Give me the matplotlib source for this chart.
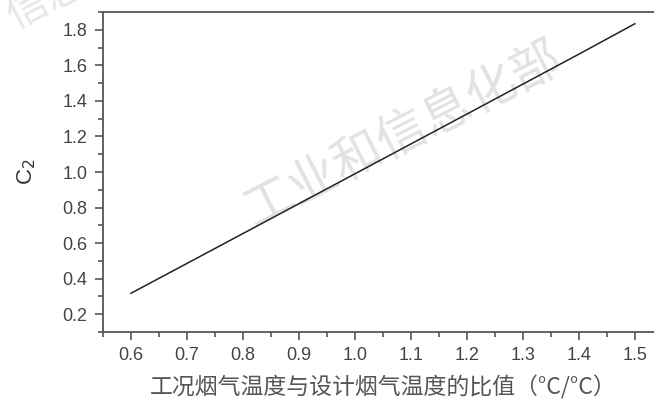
import numpy as np
import matplotlib.pyplot as plt
import matplotlib as mpl
from matplotlib.ticker import MultipleLocator

mpl.rcParams['font.family'] = ['Liberation Sans']
cjk = ['Noto Sans CJK SC', 'DejaVu Sans']

# ratio of working to design flue gas temperature vs C2
ratio = [0.6, 0.8, 1.0, 1.2, 1.4, 1.5]
c2 = [0.318, 0.654, 0.99, 1.326, 1.663, 1.834]

fig = plt.figure(figsize=(6.54, 4.01), dpi=100)
ax = fig.add_axes([0.1575, 0.172, 0.856, 0.798])
ax.set_facecolor('none')

ax.plot(ratio, c2, color='#222222', linewidth=1.1)

ax.set_xlim(0.55, 1.55)
ax.set_ylim(0.1, 1.9)
ax.xaxis.set_major_locator(MultipleLocator(0.1))
ax.xaxis.set_minor_locator(MultipleLocator(0.05))
ax.yaxis.set_major_locator(MultipleLocator(0.2))
ax.yaxis.set_minor_locator(MultipleLocator(0.1))

spine_col = '#555555'
for s in ax.spines.values():
    s.set_color(spine_col)
    s.set_linewidth(1.3)
ax.tick_params(which='both', direction='out', color=spine_col, width=1.2,
               labelcolor='#444444', labelsize=13)
ax.tick_params(which='major', length=6, pad=5)
ax.tick_params(which='minor', length=3.5)

ax.set_ylabel('C$_2$', fontsize=16, color='#333333', labelpad=18)
ax.set_xlabel('工况烟气温度与设计烟气温度的比值（°C/°C）', fontsize=16.5,
              color='#555555', labelpad=8, family=cjk)

# faint watermark, kept behind the axes
fig.text(0.36, 0.44, '工业和信息化部', fontsize=36, color='#e2e2e2',
         rotation=27, family=cjk, zorder=-5)
fig.text(0.0, 0.93, '信息', fontsize=30, color='#e6e6e6',
         rotation=28, family=cjk, zorder=-5)

fig.savefig('out.png', dpi=100)
